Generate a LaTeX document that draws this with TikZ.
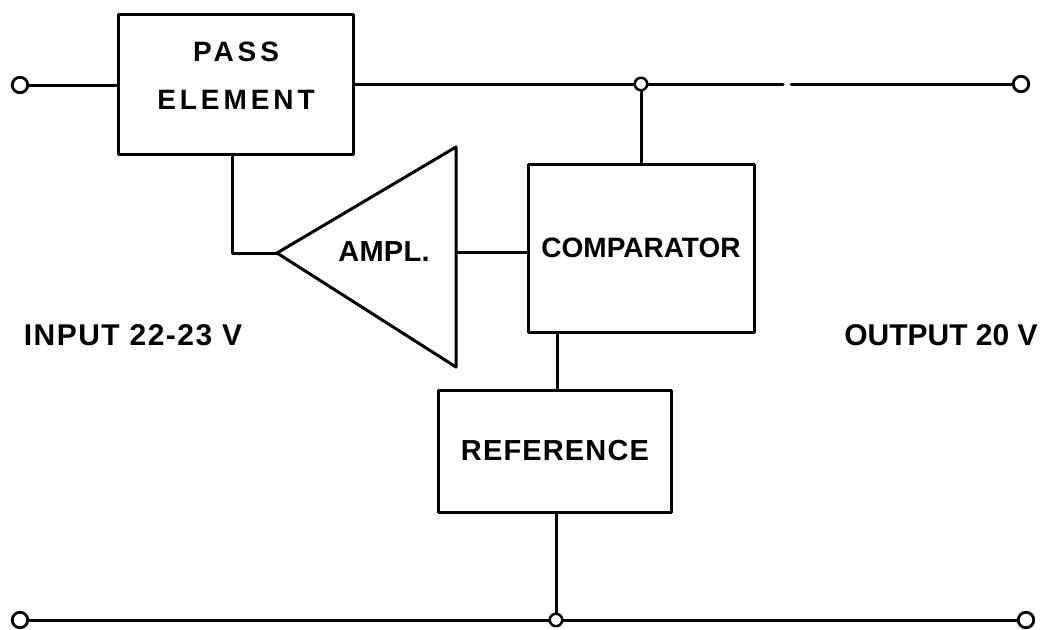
\documentclass[tikz,border=0pt]{standalone}
\usepackage{fontspec}
\setmainfont{Liberation Sans}
\begin{document}
\begin{tikzpicture}[x=1pt,y=-1pt,line width=3pt,line cap=round,line join=round,
  blk/.style={draw,rectangle,inner sep=0pt,line width=3pt},
  term/.style={draw,circle,fill=white,inner sep=0pt,minimum size=15.5pt,line width=2.8pt},
  junc/.style={draw,circle,fill=white,inner sep=0pt,minimum size=12.5pt,line width=2.5pt},
  lbl/.style={inner sep=0pt,font=\bfseries\fontsize{28}{30}\selectfont},
  widelbl/.style={inner sep=0pt,font=\bfseries\fontsize{28}{48}\selectfont\addfontfeature{LetterSpace=14}},
]
\useasboundingbox (0,0) rectangle (1048,629);
% blocks
\node[blk,minimum width=235pt,minimum height=140pt] (pass) at (235.5,84) {};
\node[widelbl,align=center] (passtxt) at (236,76) {PASS\\ELEMENT};
\node[blk,minimum width=226pt,minimum height=168pt,lbl] (comp) at (641,248) {COMPARATOR};
\node[blk,minimum width=233pt,minimum height=122pt,lbl,font=\bfseries\fontsize{29}{30}\selectfont\addfontfeature{LetterSpace=4}] (ref) at (555,451) {REFERENCE};
% amplifier
\coordinate (tip) at (277,253);
\coordinate (ampA) at (456,147);
\coordinate (ampB) at (456,367);
\coordinate (ampout) at (456,252);
\draw (tip) -- (ampA) -- (ampB) -- cycle;
\node[lbl,font=\bfseries\fontsize{29}{30}\selectfont\addfontfeature{LetterSpace=1}] (ampl) at (384,252) {AMPL.};
% terminals and junctions
\node[term] (lin) at (20,85) {};
\node[term] (rout) at (1021,84) {};
\node[term] (lgnd) at (20,620) {};
\node[term] (rgnd) at (1026,620) {};
\node[junc] (jt) at (641,84) {};
\node[junc] (jb) at (556,620) {};
\coordinate (gapL) at (783,84);
\coordinate (gapR) at (791,84);
% labels
\node[lbl,font=\bfseries\fontsize{30}{30}\selectfont\addfontfeature{LetterSpace=5}] (inp) at (133,335) {INPUT 22-23 V};
\node[lbl,font=\bfseries\fontsize{30}{30}\selectfont] (outp) at (941,335) {OUTPUT 20 V};
% connectors
\draw (lin) -- (pass.west |- lin);
\draw (pass.east |- jt) -- (jt);
\draw (jt) -- (gapL);
\draw (gapR) -- (rout);
\draw (jt) -- (comp.north);
\draw ([xshift=-3pt]pass.south) |- (tip);
\draw (ampout) -- (ampout -| comp.west);
\draw (ref.north -| 557,0) -- (comp.south -| 557,0);
\draw (lgnd) -- (jb);
\draw (jb) -- (rgnd);
\draw (ref.south -| jb) -- (jb);
\end{tikzpicture}
\end{document}
